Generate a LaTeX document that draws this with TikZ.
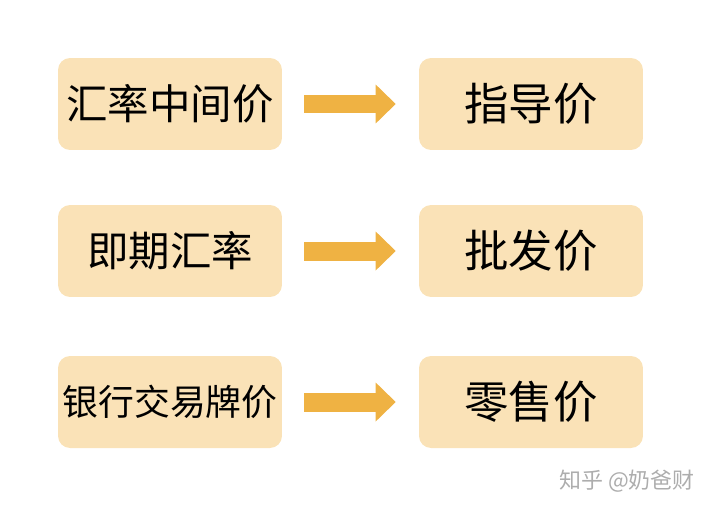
\documentclass[tikz,border=0pt]{standalone}
\usepackage{fontspec}
\setmainfont{Noto Sans CJK SC}
\usetikzlibrary{arrows.meta}
\definecolor{boxfill}{HTML}{FAE2B7}
\definecolor{arrowfill}{HTML}{EFB243}

\begin{document}
\begin{tikzpicture}
        [
            x = 0.02cm, y = -0.02cm,
            box/.style = {fill = boxfill, rounded corners = 0.24cm, minimum width = 4.48cm, minimum height = 1.84cm, inner sep = 0pt},
            big/.style = {font = \fontsize{23.6}{23.6}\selectfont},
            goes/.style = {draw = arrowfill, line width = 0.38cm, shorten < = 0.44cm, shorten > = 0.46cm,
                -{Triangle[length = 0.4cm, width = 0.78cm, line width = 0pt]}}
        ]
        \useasboundingbox (0,0) rectangle (715,510);

        \node [box, big] (mid) at (170,104) {汇率中间价};
        \node [box, big] (spot) at (170,251) {即期汇率};
        \node [box, font = \fontsize{20.4}{20.4}\selectfont] (bank) at (170,402) {银行交易牌价};

        \node [box, font = \fontsize{25.3}{25.3}\selectfont] (guide) at (531,104) {指导价};
        \node [box, font = \fontsize{25.3}{25.3}\selectfont] (whole) at (531,251) {批发价};
        \node [box, font = \fontsize{25.3}{25.3}\selectfont] (retail) at (531,402) {零售价};

        \draw [goes] (mid) -- (guide);
        \draw [goes] (spot) -- (whole);
        \draw [goes] (bank) -- (retail);

        \node [text = black!32, font = \fontsize{12.5}{12.5}\selectfont, anchor = east] (mark) at (701,481) {知乎 @奶爸财};
    \end{tikzpicture}
\end{document}
